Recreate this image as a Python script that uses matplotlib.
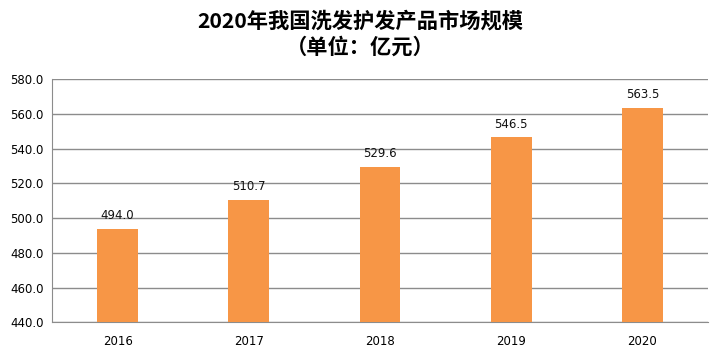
import matplotlib
matplotlib.use("Agg")
import matplotlib.pyplot as plt

plt.rcParams['font.family'] = ['DejaVu Sans', 'Noto Sans CJK SC']

years = ['2016', '2017', '2018', '2019', '2020']
scale = [494.0, 510.7, 529.6, 546.5, 563.5]
yticks = [440, 460, 480, 500, 520, 540, 560, 580]

fig = plt.figure(figsize=(7.21, 3.54), dpi=100)
ax = fig.add_axes([0.0721, 0.0895, 0.910, 0.6865])

x = range(len(years))
bars = ax.bar(x, scale, width=0.31, color='#F79646', zorder=3)
for xi, v in zip(x, scale):
    ax.annotate('%.1f' % v, (xi, v), xytext=(0, 5), textcoords='offset points',
                ha='center', va='bottom', fontsize=8.5, color='#111111')

ax.set_xlim(-0.5, len(years) - 0.5)
ax.set_ylim(440, 580)
ax.set_yticks(yticks)
ax.set_yticklabels(['%.1f' % t for t in yticks], fontsize=8.5)
ax.set_xticks(list(x))
ax.set_xticklabels(years, fontsize=8.5)
ax.tick_params(length=0, pad=9, axis='x')
ax.tick_params(length=0, pad=6, axis='y')
ax.grid(axis='y', color='#8c8c8c', linewidth=1, zorder=0)
for s in ['top', 'right']:
    ax.spines[s].set_visible(False)
ax.spines['left'].set_color('#8c8c8c')
ax.spines['bottom'].set_color('#8c8c8c')

fig.text(0.5, 0.940, '2020年我国洗发护发产品市场规模', ha='center', va='center',
         fontsize=15.3, fontweight='bold', family=['Noto Sans CJK SC', 'DejaVu Sans'])
fig.text(0.5, 0.868, '（单位：亿元）', ha='center', va='center',
         fontsize=15.3, fontweight='bold', family=['Noto Sans CJK SC', 'DejaVu Sans'])

fig.savefig('out.png', dpi=100)
